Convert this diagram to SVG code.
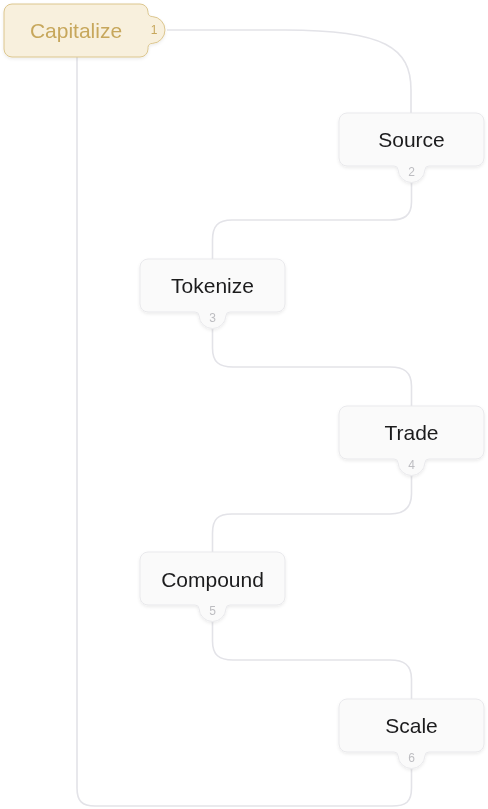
<svg xmlns="http://www.w3.org/2000/svg" width="488" height="809" viewBox="0 0 488 809">
<defs>
<filter id="sh" x="-10%" y="-20%" width="120%" height="160%">
<feDropShadow dx="0" dy="1.5" stdDeviation="1.6" flood-color="#000" flood-opacity="0.08"/>
</filter>
<path id="card" d="M8,0 H137 A8 8 0 0 1 145,8 V45 A8 8 0 0 1 137,53 H89.97 A4 4 0 0 0 85.98,56.77 A13.5 13.5 0 0 1 59.02,56.77 A4 4 0 0 0 55.03,53 H8 A8 8 0 0 1 0,45 V8 A8 8 0 0 1 8,0 Z"/>
<style>
.edge{fill:none;stroke:#e3e3e8;stroke-width:1.6}
.shape{fill:#fafafa;stroke:#e9e9ec;stroke-width:1}
.lbl{font-family:"Liberation Sans",Arial,sans-serif;font-size:21px;fill:#1c1c1e;text-anchor:middle}
.num{font-family:"Liberation Sans",Arial,sans-serif;font-size:12px;fill:#bdbdc1;text-anchor:middle}
.h .shape{fill:#f8f0dd;stroke:#dcc68e}
.h .lbl{fill:#c7a75b}
.h .num{fill:#c7a75b}
</style>
</defs>
<rect width="488" height="809" fill="#ffffff"/>
<g id="connectors">
<path class="edge" d="M167,30 H285 C385,30 411,48 411,90 V113"/>
<path class="edge" d="M411.5,183 V202 C411.5,216 404,220 390,220 H232 C218,220 212.5,226 212.5,240 V259"/>
<path class="edge" d="M212.5,329 V348 C212.5,362 219,367 233,367 H390 C404,367 411.5,372 411.5,386 V406"/>
<path class="edge" d="M411.5,476 V494 C411.5,508 404,514 390,514 H232 C218,514 212.5,519 212.5,533 V552"/>
<path class="edge" d="M212.5,622 V641 C212.5,655 219,660 233,660 H390 C404,660 411.5,665 411.5,679 V699"/>
<path class="edge" d="M411.5,769 V788 C411.5,802 406,806 392,806 H95 C82,806 77,801 77,788 V57"/>
</g>
<g id="node-capitalize" class="h" transform="translate(4,4)" filter="url(#sh)">
<path class="shape" d="M8,0 H136 A8 8 0 0 1 144,8 V8.53 A4 4 0 0 0 148.23,12.52 A13.5 13.5 0 0 1 148.23,39.48 A4 4 0 0 0 144,43.47 V45 A8 8 0 0 1 136,53 H8 A8 8 0 0 1 0,45 V8 A8 8 0 0 1 8,0 Z"/>
<text class="lbl" x="72" y="33.5">Capitalize</text>
<text class="num" x="150" y="30.3">1</text>
</g>
<g id="node-source" transform="translate(339,113)" filter="url(#sh)">
<use href="#card" class="shape"/>
<text class="lbl" x="72.5" y="34">Source</text>
<text class="num" x="72.5" y="63">2</text>
</g>
<g id="node-tokenize" transform="translate(140,259)" filter="url(#sh)">
<use href="#card" class="shape"/>
<text class="lbl" x="72.5" y="34">Tokenize</text>
<text class="num" x="72.5" y="63">3</text>
</g>
<g id="node-trade" transform="translate(339,406)" filter="url(#sh)">
<use href="#card" class="shape"/>
<text class="lbl" x="72.5" y="34">Trade</text>
<text class="num" x="72.5" y="63">4</text>
</g>
<g id="node-compound" transform="translate(140,552)" filter="url(#sh)">
<use href="#card" class="shape"/>
<text class="lbl" x="72.5" y="35">Compound</text>
<text class="num" x="72.5" y="63">5</text>
</g>
<g id="node-scale" transform="translate(339,699)" filter="url(#sh)">
<use href="#card" class="shape"/>
<text class="lbl" x="72.5" y="34">Scale</text>
<text class="num" x="72.5" y="63">6</text>
</g>
</svg>
